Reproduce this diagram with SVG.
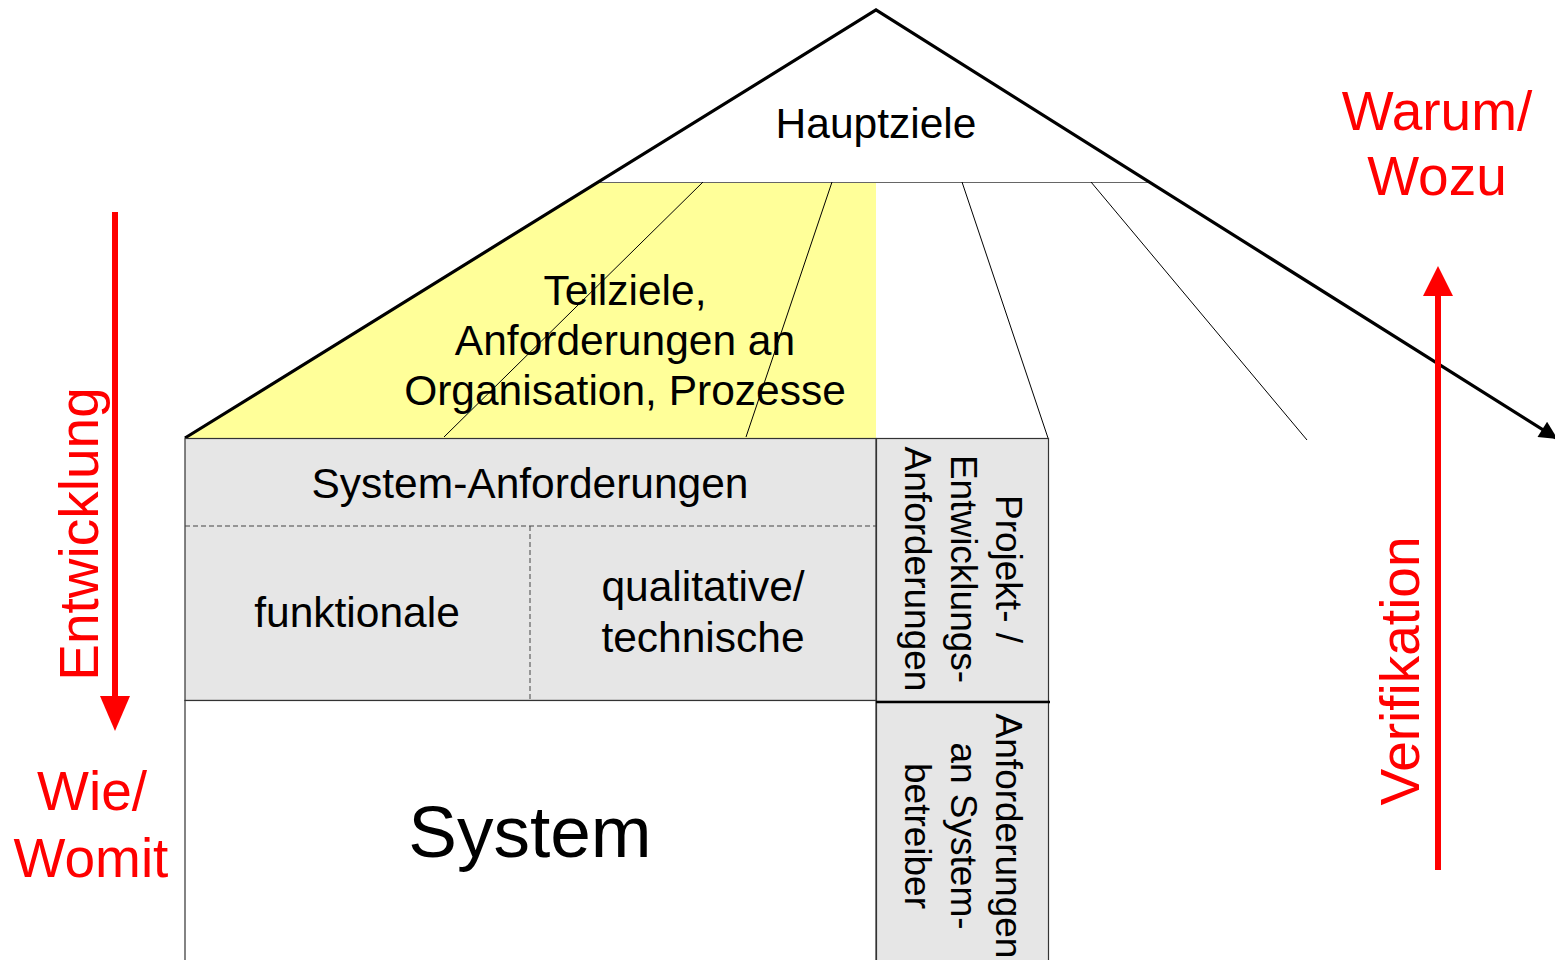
<svg xmlns="http://www.w3.org/2000/svg" width="1555" height="960" viewBox="0 0 1555 960">
<defs>
<style>
.t{font-family:"Liberation Sans",Arial,sans-serif;fill:#000;text-anchor:middle}
.r{font-family:"Liberation Sans",Arial,sans-serif;fill:#ff0000;text-anchor:middle;font-size:55px}
.thin{stroke:#000;stroke-width:1;fill:none}
.box{fill:#e6e6e6;stroke:#333;stroke-width:1.2}
.dash{stroke:#444;stroke-width:1;stroke-dasharray:5,3;fill:none}
.red{stroke:#ff0000;stroke-width:6;fill:none}
</style>
<marker id="ah" viewBox="0 0 10 10" refX="9" refY="5" markerWidth="24" markerHeight="18" orient="auto" markerUnits="userSpaceOnUse">
<path d="M0,0 L10,5 L0,10 z" fill="#000"/>
</marker>
</defs>
<rect width="1555" height="960" fill="#fff"/>

<g id="teilziele">
<polygon points="598,182 876,182 876,438 185,438" fill="#ffff99"/>
<text class="t" font-size="42.5" x="625" y="305">Teilziele,</text>
<text class="t" font-size="42.5" x="625" y="355">Anforderungen an</text>
<text class="t" font-size="42.5" x="625" y="405">Organisation, Prozesse</text>
</g>

<g id="hauptziele">
<line x1="598" y1="182.5" x2="1152" y2="182.5" stroke="#666" stroke-width="1.2"/>
<text class="t" font-size="42.5" x="876" y="138">Hauptziele</text>
</g>

<g id="connectors">
<line class="thin" x1="703" y1="182" x2="444" y2="437"/>
<line class="thin" x1="832" y1="182" x2="746" y2="437"/>
<line class="thin" x1="962" y1="182" x2="1048" y2="438"/>
<line class="thin" x1="1091" y1="182" x2="1307" y2="440"/>
<polyline points="185,438 876,10 1556,438" fill="none" stroke="#000" stroke-width="3.2" marker-end="url(#ah)"/>
</g>

<g id="system-anforderungen">
<rect class="box" x="185" y="438.5" width="691" height="262"/>
<line class="dash" x1="185" y1="526" x2="876" y2="526"/>
<line class="dash" x1="530" y1="526" x2="530" y2="700"/>
<text class="t" font-size="42.5" x="530" y="498">System-Anforderungen</text>
<text class="t" font-size="42.5" x="357" y="627">funktionale</text>
<text class="t" font-size="42.5" x="703" y="601">qualitative/</text>
<text class="t" font-size="42.5" x="703" y="652">technische</text>
</g>

<g id="system">
<rect x="185" y="700.5" width="691" height="270" fill="#fff" stroke="#333" stroke-width="1.2"/>
<text class="t" font-size="73" x="530" y="857">System</text>
</g>

<g id="projekt">
<rect class="box" x="876.5" y="438.5" width="172" height="263"/>
<text class="t" font-size="37" transform="translate(996,569) rotate(90)">Projekt- /</text>
<text class="t" font-size="37" transform="translate(951,569) rotate(90)">Entwicklungs-</text>
<text class="t" font-size="37" transform="translate(905,569) rotate(90)">Anforderungen</text>
</g>

<g id="betreiber">
<rect class="box" x="876.5" y="702" width="172" height="270"/>
<line x1="876" y1="702" x2="1050" y2="702" stroke="#000" stroke-width="2.5"/>
<text class="t" font-size="37" transform="translate(996,836) rotate(90)">Anforderungen</text>
<text class="t" font-size="37" transform="translate(951,836) rotate(90)">an System-</text>
<text class="t" font-size="37" transform="translate(905,836) rotate(90)">betreiber</text>
</g>

<g id="entwicklung">
<line class="red" x1="115" y1="212" x2="115" y2="700"/>
<polygon points="100,696 130,696 115,731" fill="#ff0000"/>
<text class="r" transform="translate(98,534) rotate(-90)">Entwicklung</text>
<text class="r" x="92" y="810">Wie/</text>
<text class="r" x="91" y="877">Womit</text>
</g>

<g id="verifikation">
<line class="red" x1="1438" y1="870" x2="1438" y2="292"/>
<polygon points="1423,296 1453,296 1438,266" fill="#ff0000"/>
<text class="r" transform="translate(1419,671) rotate(-90)">Verifikation</text>
<text class="r" x="1437" y="130">Warum/</text>
<text class="r" x="1437" y="195">Wozu</text>
</g>
</svg>
